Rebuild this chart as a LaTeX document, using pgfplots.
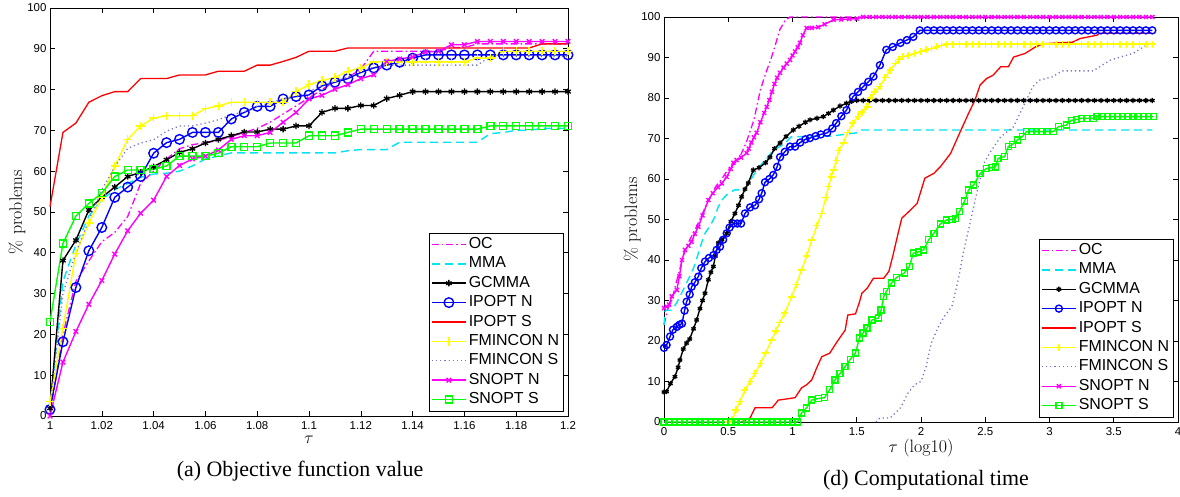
\documentclass[border=0pt]{standalone}
\usepackage{pgfplots}
\pgfplotsset{compat=1.18}
\usepackage{pgfplotstable}
\usepackage{fontspec}
\newfontfamily\arialfont{Liberation Sans}
\newfontfamily\timesfont{Liberation Serif}
\definecolor{cMag}{rgb}{1,0,1}
\definecolor{cCy}{rgb}{0,0.9,0.95}
\definecolor{cBl}{rgb}{0,0,1}
\definecolor{cRe}{rgb}{1,0,0}
\definecolor{cYe}{rgb}{1,1,0}
\definecolor{cFs}{rgb}{0.45,0.45,0.8}
\definecolor{cGr}{rgb}{0,1,0}

\pgfplotstableread{
tau   oc    mma   gc    ipn   ips   fn    fs    sn    ss
1.000 0.5   2     1.9   1.6   51.3  3.5   2     0     23.1
1.005 20    33    38.1  18.2  69.5  21.5  30    13.2  42.3
1.010 33    42    43.1  31.5  71.8  39.9  40    20.7  49.0
1.015 38    49    50.5  40.5  76.9  47.3  48    27.4  52.1
1.020 42.7  53    53.6  46.2  78.5  53.5  55.4  33.2  54.6
1.025 45    55.5  56.1  53.6  79.5  61.3  61.1  39.7  58.7
1.030 48.9  57    58.7  56.1  79.5  67.8  65.6  45.4  60.3
1.035 57    58.5  59.7  58.7  82.7  71.1  66.9  49.7  60.3
1.040 60    59.3  61.1  64.4  82.7  73.0  67.7  52.9  60.5
1.045 63    59.5  62.8  67.0  82.7  73.6  69.8  58.7  61.3
1.050 65.5  60    64.6  67.8  83.6  73.6  71.1  61.4  63.7
1.055 66.5  61.3  65.5  69.5  83.6  73.6  71.1  63.0  63.7
1.060 67    63    66.9  69.5  83.6  75.3  71.8  63.7  63.7
1.065 67.5  63.7  67.8  69.5  84.5  76.0  72.6  65.2  64.4
1.070 68.5  64.5  68.7  72.8  84.5  76.9  73.8  67.8  66.0
1.075 69.5  64.5  69.6  74.4  84.5  76.9  74.6  68.7  66.0
1.080 70.5  64.5  69.6  75.9  86.0  76.9  75.9  68.7  66.0
1.085 72    64.5  70.3  75.9  86.0  76.9  76.7  69.5  66.9
1.090 74    64.5  70.3  77.7  86.9  76.9  77.8  72.0  66.9
1.095 76    64.5  71.1  78.3  87.9  79.5  78.3  74.4  66.9
1.100 78    64.5  71.1  78.7  89.4  81.2  79.5  77.7  68.7
1.105 80    64.5  74.4  80.9  89.4  82.2  81    78.6  68.7
1.110 82    64.5  75.4  81.8  89.4  83.0  82    80.1  68.7
1.115 83    65    75.4  82.7  90.2  84.5  83    81.2  69.5
1.120 85    65.3  76.1  84.2  90.2  85.3  84.5  82.7  70.3
1.125 89.4  65.3  76.1  85.3  90.2  86.8  85.5  83.6  70.3
1.130 89.4  65.3  77.8  86.0  90.2  86.8  86.0  86.9  70.3
1.135 89.4  67.1  78.6  86.7  90.2  86.8  86.0  87.5  70.3
1.140 89.4  67.1  79.5  87.7  90.2  86.8  86.0  88.0  70.3
1.145 89.4  67.1  79.5  88.5  90.2  86.8  86.0  89.2  70.3
1.150 89.4  67.1  79.5  88.5  90.2  86.8  86.0  89.4  70.3
1.155 90.3  67.1  79.5  88.5  90.2  86.8  86.0  91.0  70.3
1.160 90.3  67.1  79.5  88.5  90.2  86.8  86.0  91.0  70.3
1.165 91.2  67.1  79.5  88.5  90.2  87.7  86.0  91.8  70.3
1.170 91.2  69.2  79.5  88.5  90.2  87.7  88.1  91.8  71.1
1.175 91.2  69.5  79.5  88.5  90.2  89.4  88.1  91.8  71.1
1.180 91.2  70    79.5  88.5  90.2  89.4  88.1  91.8  71.1
1.185 91.2  70    79.5  88.5  90.2  89.4  88.1  91.8  71.1
1.190 91.2  70.5  79.5  88.5  91.2  89.4  88.1  91.8  71.1
1.195 91.2  70.5  79.5  88.5  91.2  89.4  88.1  91.8  71.1
1.200 91.2  70.5  79.5  88.5  91.2  89.4  88.1  91.8  71.1
}\leftdata

\pgfplotsset{
  myaxis/.style={
    scale only axis, clip=false,
    axis line style={line width=0.8bp},
    tick align=inside, major tick length=5bp,
    every tick/.style={black, line width=0.6bp},
    ymin=0, ymax=100, ytick={0,10,20,30,40,50,60,70,80,90,100},
    ticklabel style={font=\arialfont\fontsize{11.5}{12}\selectfont},
    /pgf/number format/assume math mode=true,
    xticklabel style={yshift=-2bp},
    label style={font=\fontsize{18}{20}\selectfont},
    ylabel={\% problems},
    legend cell align=left,
    legend style={at={(axis description cs:1,0)}, anchor=south east, xshift=-5bp, yshift=5bp,
      inner sep=1.5bp, row sep=0bp,
      font=\arialfont\fontsize{16}{16}\selectfont,
      nodes={inner sep=2.2bp, text height=11.5bp, text depth=3.5bp}},
    legend image code/.code={\draw[mark repeat=2,mark phase=2,##1] plot coordinates {(0bp,0bp) (17bp,0bp) (34bp,0bp)};},
  },
  sOC/.style={color=cMag, line width=1.3bp, dash pattern=on 7bp off 3bp on 1.5bp off 3bp, mark=none},
  sMMA/.style={color=cCy, line width=1.4bp, dash pattern=on 8bp off 5bp, mark=none},
  sGC/.style={color=black, line width=1.4bp, mark=asterisk, mark size=#1, mark options={solid, line width=1.3bp}},
  sIPN/.style={color=cBl, line width=1.4bp, mark=o, mark size=#1, mark options={solid}},
  sIPS/.style={color=cRe, line width=1.3bp, mark=none},
  sFN/.style={color=cYe, line width=1.4bp, mark=+, mark size=#1, mark options={solid}},
  sFS/.style={color=cFs, line width=1.3bp, dash pattern=on 1.2bp off 3bp, mark=none},
  sSN/.style={color=cMag, line width=1.4bp, mark=x, mark size=#1, mark options={solid}},
  sSS/.style={color=cGr, line width=1.4bp, mark=square, mark size=#1, mark options={solid}},
}

\begin{document}
\begin{tikzpicture}
\path[use as bounding box] (0,0) rectangle (1180bp,497bp);

\begin{axis}[myaxis, at={(50bp,81bp)}, anchor=south west, width=518bp, height=408bp,
  xmin=1, xmax=1.2, xtick={1,1.02,1.04,1.06,1.08,1.1,1.12,1.14,1.16,1.18,1.2},
  xlabel={$\tau$},
  xlabel style={at={(axis description cs:0.5,-0.059)}, anchor=center},
  ylabel style={at={(axis description cs:-0.064,0.5)}, anchor=center}]
\addplot[sOC] table[x=tau,y=oc] {\leftdata};
\addplot[sMMA] table[x=tau,y=mma] {\leftdata};
\addplot[sGC=3.2bp] table[x=tau,y=gc] {\leftdata};
\addplot[sIPN=4.8bp] table[x=tau,y=ipn] {\leftdata};
\addplot[sIPS] table[x=tau,y=ips] {\leftdata};
\addplot[sFN=4.2bp] table[x=tau,y=fn] {\leftdata};
\addplot[sFS] table[x=tau,y=fs] {\leftdata};
\addplot[sSN=3.2bp] table[x=tau,y=sn] {\leftdata};
\addplot[sSS=3.5bp] table[x=tau,y=ss] {\leftdata};
\legend{OC,MMA,GCMMA,IPOPT N,IPOPT S,FMINCON N,FMINCON S,SNOPT N,SNOPT S}
\end{axis}

\begin{axis}[myaxis, at={(664bp,75bp)}, anchor=south west, width=514bp, height=405bp,
  xmin=0, xmax=4, xtick={0,0.5,1,1.5,2,2.5,3,3.5,4},
  xlabel={$\tau$ (log10)},
  xlabel style={at={(axis description cs:0.5,-0.064)}, anchor=center},
  ylabel style={at={(axis description cs:-0.062,0.5)}, anchor=center}]
\addplot[sOC] coordinates {(0,24) (0.03,28) (0.06,30) (0.1,35) (0.15,41) (0.2,45) (0.25,48) (0.3,51.5) (0.35,55) (0.4,58) (0.45,60) (0.49,62) (0.54,63.5) (0.59,65.4) (0.64,69) (0.7,74.6) (0.75,82) (0.79,86) (0.83,89.4) (0.87,93.5) (0.9,96.8) (0.94,99) (0.98,100) (3.8,100)};
\addplot[sMMA] coordinates {(0,24) (0.01,27.6) (0.06,27.6) (0.1,29.5) (0.137,31.8) (0.17,34) (0.2,35.9) (0.23,38) (0.267,41.6) (0.3,45) (0.319,46.6) (0.36,48.5) (0.397,50.7) (0.42,53) (0.45,54.8) (0.5,56.5) (0.55,57.3) (0.63,57.3) (0.69,60.6) (0.74,63) (0.79,64.7) (0.84,66.7) (0.9,68) (0.94,68.8) (0.99,70.4) (1.3,70.6) (1.5,71.4) (1.53,72.1) (3.8,72.1)};
\addplot[sGC=2.6bp] coordinates {(0,7.4) (0.02,7.5) (0.05,9.5) (0.085,11.2) (0.11,13.5) (0.124,15.3) (0.15,18) (0.176,19.5) (0.2,20.5) (0.23,23) (0.254,25.2) (0.28,28) (0.3,30) (0.319,31.8) (0.345,35.1) (0.365,37) (0.384,38.4) (0.4,41) (0.423,44.2) (0.45,45) (0.488,46.6) (0.52,49.5) (0.552,51.5) (0.58,53.5) (0.604,55.6) (0.63,57.5) (0.656,59) (0.695,62.2) (0.74,62.8) (0.79,64) (0.825,65.4) (0.86,67.5) (0.903,68.9) (0.95,70.5) (1.006,72.1) (1.05,73) (1.1,74) (1.136,74.6) (1.19,75) (1.24,75.4) (1.28,76.2) (1.318,77) (1.37,78) (1.42,78.7) (1.46,79.2) (1.5,79.4)
(1.55,79.4) (1.6,79.4) (1.65,79.4) (1.7,79.4) (1.75,79.4) (1.8,79.4) (1.85,79.4) (1.9,79.4) (1.95,79.4) (2,79.4) (2.05,79.4) (2.1,79.4) (2.15,79.4) (2.2,79.4) (2.25,79.4) (2.3,79.4) (2.35,79.4) (2.4,79.4) (2.45,79.4) (2.5,79.4) (2.55,79.4) (2.6,79.4) (2.65,79.4) (2.7,79.4) (2.75,79.4) (2.8,79.4) (2.85,79.4) (2.9,79.4) (2.95,79.4) (3,79.4) (3.05,79.4) (3.1,79.4) (3.15,79.4) (3.2,79.4) (3.25,79.4) (3.3,79.4) (3.35,79.4) (3.4,79.4) (3.45,79.4) (3.5,79.4) (3.55,79.4) (3.6,79.4) (3.65,79.4) (3.7,79.4) (3.75,79.4) (3.8,79.4)};
\addplot[sIPN=3.5bp] coordinates {(0,18.3) (0.02,19) (0.047,21.1) (0.07,22.8) (0.1,23.5) (0.12,24) (0.14,24.3) (0.16,27.5) (0.176,29.7) (0.2,31.5) (0.215,33.4) (0.24,34.5) (0.267,35.9) (0.29,38) (0.319,39.6) (0.35,40.5) (0.384,41.2) (0.41,42.5) (0.436,43.3) (0.46,45) (0.488,46.6) (0.51,48) (0.54,49) (0.57,49) (0.6,49) (0.63,51.5) (0.67,53) (0.708,53.5) (0.74,55) (0.76,56.5) (0.786,59.2) (0.82,60) (0.85,61) (0.88,63) (0.903,65.4) (0.94,66.7) (0.981,68) (1.02,68) (1.06,69) (1.1,69.8) (1.136,70.1) (1.18,70.6) (1.22,71) (1.27,71.4) (1.31,72.5) (1.34,73.8) (1.38,75.5) (1.42,77) (1.47,80.3) (1.51,81.5) (1.55,82.8) (1.59,84) (1.63,85.3) (1.68,88.1) (1.73,91.9) (1.78,92.6) (1.84,93.6) (1.89,94.3) (1.94,95.1) (1.99,96.7)
(2.05,96.7) (2.1,96.7) (2.15,96.7) (2.2,96.7) (2.25,96.7) (2.3,96.7) (2.35,96.7) (2.4,96.7) (2.45,96.7) (2.5,96.7) (2.55,96.7) (2.6,96.7) (2.65,96.7) (2.7,96.7) (2.75,96.7) (2.8,96.7) (2.85,96.7) (2.9,96.7) (2.95,96.7) (3,96.7) (3.05,96.7) (3.1,96.7) (3.15,96.7) (3.2,96.7) (3.25,96.7) (3.3,96.7) (3.35,96.7) (3.4,96.7) (3.45,96.7) (3.5,96.7) (3.55,96.7) (3.6,96.7) (3.65,96.7) (3.7,96.7) (3.75,96.7) (3.8,96.7)};
\addplot[sIPS] coordinates {(0.6,0) (0.67,1) (0.708,3.5) (0.84,3.5) (0.89,5.4) (1.02,6) (1.07,8.4) (1.11,9.2) (1.15,10.4) (1.19,13.5) (1.227,16.1) (1.29,17) (1.34,19.5) (1.41,22.7) (1.43,26.4) (1.49,26.7) (1.52,29.5) (1.54,31.8) (1.58,33) (1.63,35.5) (1.71,35.5) (1.75,37.2) (1.78,40.9) (1.81,45) (1.85,50.3) (1.92,52.4) (1.97,54) (2.03,60.2) (2.1,61.4) (2.15,63) (2.23,66.3) (2.3,71.3) (2.37,76.2) (2.42,79.5) (2.46,83.2) (2.51,84.8) (2.56,85.6) (2.62,87.7) (2.68,87.7) (2.72,90.1) (2.81,91) (2.89,92.6) (2.95,93.4) (3.18,93.8) (3.24,94.7) (3.37,95.5) (3.39,96) (3.8,96)};
\addplot[sFN=3.5bp] coordinates {(0.5,0) (0.53,0.5) (0.56,3) (0.59,5) (0.63,7.9) (0.67,10) (0.708,12) (0.75,14.5) (0.79,17) (0.837,20.2) (0.87,22.5) (0.9,24.5) (0.94,26.9) (0.993,30.9) (1.03,34) (1.07,37.5) (1.11,41) (1.15,44.9) (1.19,48.5) (1.227,51.5) (1.26,55.5) (1.28,58.1) (1.3,60.5) (1.318,62.2) (1.34,64.5) (1.36,67) (1.395,68.9) (1.43,71.5) (1.47,73.8) (1.51,75.5) (1.54,76.5) (1.58,77.8) (1.61,80) (1.64,81.5) (1.68,82.8) (1.72,85) (1.76,86.9) (1.8,88.5) (1.83,89.5) (1.86,90.2) (1.9,90.5) (1.95,91) (2.0,91.5) (2.04,91.9) (2.08,92.2) (2.12,92.6) (2.16,93) (2.2,93.3)
(2.25,93.3) (2.3,93.3) (2.35,93.3) (2.4,93.3) (2.45,93.3) (2.5,93.3) (2.55,93.3) (2.6,93.3) (2.65,93.3) (2.7,93.3) (2.75,93.3) (2.8,93.3) (2.85,93.3) (2.9,93.3) (2.95,93.3) (3,93.3) (3.05,93.3) (3.1,93.3) (3.15,93.3) (3.2,93.3) (3.25,93.3) (3.3,93.3) (3.35,93.3) (3.4,93.3) (3.45,93.3) (3.5,93.3) (3.55,93.3) (3.6,93.3) (3.65,93.3) (3.7,93.3) (3.75,93.3) (3.8,93.3)};
\addplot[sFS] coordinates {(1.65,0) (1.68,1) (1.76,1) (1.84,3.5) (1.9,7.2) (1.95,9.2) (2.0,10) (2.04,13.7) (2.08,19.5) (2.13,23.2) (2.18,26) (2.24,28.5) (2.29,35.1) (2.33,42) (2.37,47.5) (2.43,56) (2.49,63.9) (2.54,66.7) (2.62,70.4) (2.72,72.9) (2.82,79.5) (2.87,82.8) (2.92,84.4) (3.02,85.2) (3.1,86.7) (3.34,86.7) (3.39,87.7) (3.47,89.3) (3.55,90.1) (3.65,91) (3.73,92.6) (3.78,93.4)};
\addplot[sSN=2.8bp] coordinates {(0,28.1) (0.02,28.5) (0.04,29) (0.06,31) (0.1,32.6) (0.12,36) (0.14,40) (0.163,42.5) (0.19,43.5) (0.215,44.5) (0.24,46.5) (0.267,48.2) (0.3,51) (0.345,54.8) (0.38,56.5) (0.42,58) (0.45,58.9) (0.488,60.5) (0.52,62.5) (0.54,64) (0.565,64.7) (0.6,65.3) (0.643,66.4) (0.66,67.5) (0.68,69) (0.7,70.3) (0.721,71.4) (0.75,74) (0.78,76.3) (0.799,77.8) (0.82,79.5) (0.84,81.5) (0.86,83.5) (0.88,85) (0.903,86.2) (0.93,87.5) (0.955,88.5) (0.981,89.4) (1.0,90.5) (1.02,91.5) (1.04,92.5) (1.058,93.6) (1.08,95.5) (1.11,97.3) (1.15,97.3) (1.2,97.5) (1.25,98.2) (1.32,99.3) (1.38,99.4) (1.44,99.5) (1.5,99.6) (1.55,100)
(1.6,100) (1.65,100) (1.7,100) (1.75,100) (1.8,100) (1.85,100) (1.9,100) (1.95,100) (2,100) (2.05,100) (2.1,100) (2.15,100) (2.2,100) (2.25,100) (2.3,100) (2.35,100) (2.4,100) (2.45,100) (2.5,100) (2.55,100) (2.6,100) (2.65,100) (2.7,100) (2.75,100) (2.8,100) (2.85,100) (2.9,100) (2.95,100) (3,100) (3.05,100) (3.1,100) (3.15,100) (3.2,100) (3.25,100) (3.3,100) (3.35,100) (3.4,100) (3.45,100) (3.5,100) (3.55,100) (3.6,100) (3.65,100) (3.7,100) (3.75,100) (3.8,100)};
\addplot[sSS=3bp] coordinates {(0,0) (0.04,0) (0.08,0) (0.12,0) (0.16,0) (0.2,0) (0.24,0) (0.28,0) (0.32,0) (0.36,0) (0.4,0) (0.44,0) (0.48,0) (0.52,0) (0.56,0) (0.6,0) (0.64,0) (0.68,0) (0.72,0) (0.76,0) (0.8,0) (0.84,0) (0.88,0) (0.92,0) (0.96,0) (1.0,0) (1.04,0) (1.07,2.2) (1.11,3.5) (1.15,5.4) (1.2,5.8) (1.25,6) (1.29,8) (1.33,10.4) (1.37,12) (1.41,13.7) (1.45,15.5) (1.49,17) (1.52,20.7) (1.55,22) (1.58,23.2) (1.62,25.2) (1.67,25.7) (1.69,27.7) (1.71,31) (1.73,32.2) (1.77,34.3) (1.81,35.7) (1.87,36.8) (1.91,38.4) (1.94,41.7) (1.98,42) (2.02,42.5) (2.06,45) (2.1,46.6) (2.15,48.9) (2.2,49.9) (2.24,50) (2.27,50.3) (2.3,52) (2.34,54.6) (2.37,57.3) (2.41,58.5) (2.46,61.4) (2.51,62.6) (2.55,62.8) (2.58,63) (2.6,65.1) (2.65,65.5) (2.68,68) (2.71,68.5) (2.75,69.6) (2.79,70.5) (2.82,71.7) (2.86,71.7) (2.9,71.7) (2.94,71.7) (2.98,71.7) (3.03,71.7) (3.07,72.9) (3.13,73.3) (3.17,74.5) (3.21,74.7) (3.25,75) (3.29,75) (3.34,75) (3.37,75.4) (3.41,75.4) (3.45,75.4) (3.49,75.4) (3.53,75.4) (3.57,75.4) (3.61,75.4) (3.65,75.4) (3.69,75.4) (3.73,75.4) (3.77,75.4) (3.81,75.4)};
\legend{OC,MMA,GCMMA,IPOPT N,IPOPT S,FMINCON N,FMINCON S,SNOPT N,SNOPT S}
\end{axis}

\node[font=\timesfont\fontsize{22}{24}\selectfont] at (300bp,26bp) {(a) Objective function value};
\node[font=\timesfont\fontsize{22}{24}\selectfont] at (926bp,17bp) {(d) Computational time};
\end{tikzpicture}
\end{document}
